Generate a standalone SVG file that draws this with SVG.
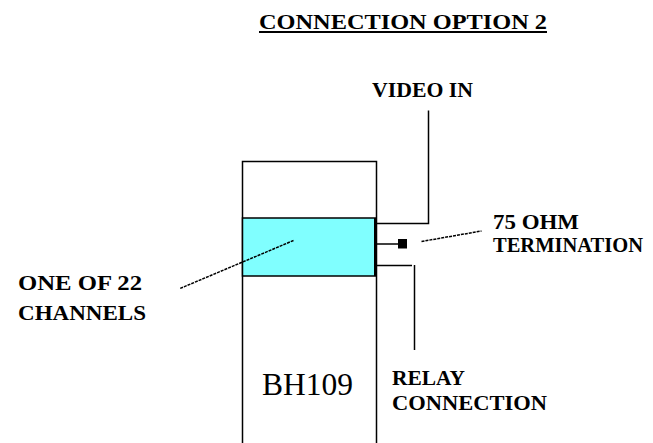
<svg xmlns="http://www.w3.org/2000/svg" width="653" height="443" viewBox="0 0 653 443">
<style>
.t{font-family:"Liberation Serif","Times New Roman",serif;font-weight:bold;font-size:21px;fill:#000}
.r{font-family:"Liberation Serif","Times New Roman",serif;font-size:32px;fill:#000}
.ln{stroke:#000;stroke-width:1.5;fill:none}
.ds{stroke:#000;stroke-width:1.5;fill:none;stroke-dasharray:3 1}
</style>
<rect width="653" height="443" fill="#fff"/>
<g id="title">
<text class="t" x="259" y="29" font-size="20" textLength="288" lengthAdjust="spacingAndGlyphs">CONNECTION OPTION 2</text>
<line x1="259" y1="32" x2="547" y2="32" stroke="#000" stroke-width="2"/>
</g>
<g id="bh109">
<path class="ln" d="M242.5 445 V161.5 H376.5 V445"/>
<rect x="242.5" y="218" width="133.5" height="58" fill="#80ffff" stroke="#000" stroke-width="1.5"/>
<line x1="375.5" y1="218" x2="375.5" y2="276" stroke="#000" stroke-width="3"/>
<text class="r" x="262" y="395" textLength="91" lengthAdjust="spacingAndGlyphs">BH109</text>
</g>
<g id="terminator">
<rect x="398" y="239" width="9" height="9.5" fill="#000"/>
</g>
<g id="connectors">
<path class="ln" d="M377 223.5 H428.5 V110.5"/>
<path class="ln" d="M377 244 H399"/>
<path class="ln" d="M377 265.5 H412"/>
<path class="ln" d="M414.5 265 V350"/>
<path class="ds" d="M421.5 241.5 L481.5 231"/>
<path class="ds" d="M293.5 240.5 L180 288.5"/>
</g>
<g id="labels">
<text class="t" x="372" y="96.5" textLength="101" lengthAdjust="spacingAndGlyphs">VIDEO IN</text>
<text class="t" x="493" y="228.5" font-size="17" textLength="86" lengthAdjust="spacingAndGlyphs">75 OHM</text>
<text class="t" x="493" y="252" font-size="17" textLength="150" lengthAdjust="spacingAndGlyphs">TERMINATION</text>
<text class="t" x="18" y="290" font-size="22" textLength="124" lengthAdjust="spacingAndGlyphs">ONE OF 22</text>
<text class="t" x="18" y="320" font-size="22" textLength="128" lengthAdjust="spacingAndGlyphs">CHANNELS</text>
<text class="t" x="392" y="385" textLength="73" lengthAdjust="spacingAndGlyphs">RELAY</text>
<text class="t" x="392" y="410" textLength="155" lengthAdjust="spacingAndGlyphs">CONNECTION</text>
</g>
</svg>
